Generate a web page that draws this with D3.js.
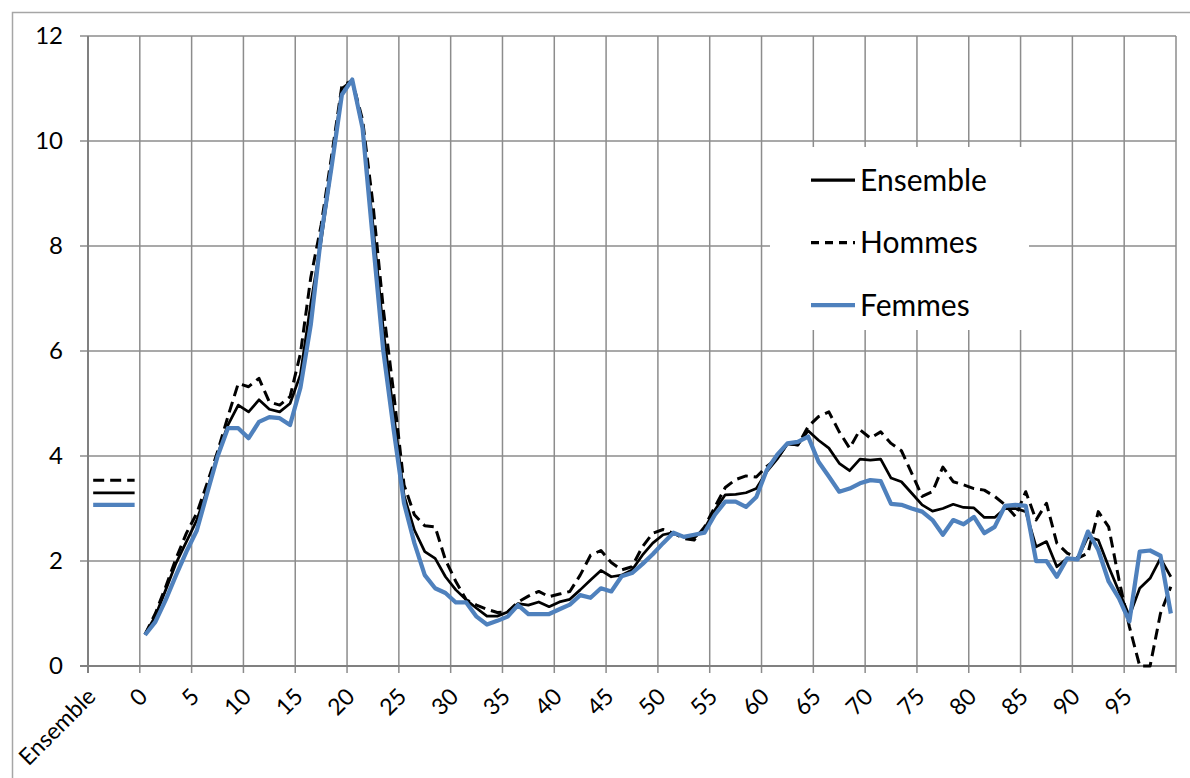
<!DOCTYPE html>
<html>
<head>
<meta charset="utf-8">
<script src="https://cdn.jsdelivr.net/npm/d3@7"></script>
<style>
  body { margin: 0; background: #fff; }
  svg text { font-family: Lato, "Open Sans", sans-serif; fill: #000; }
</style>
</head>
<body>
<div id="chart"></div>
<script>

// categories: the "Ensemble" column, four empty slots, then ages 0..99
var blankCats = ["_1", "_2", "_3", "_4"];
var ages = d3.range(0, 100).map(String);
var cats = ["Ensemble"].concat(blankCats, ages);

var seriesNames = ["Hommes", "Ensemble", "Femmes"];

// value for the whole population ("Ensemble" column), same order as seriesNames
var overallValues = [3.54, 3.30, 3.07];

var ensemble = [
  0.60, 0.95, 1.45, 1.96, 2.37, 2.78, 3.35, 4.02, 4.59, 4.97,
  4.84, 5.07, 4.89, 4.84, 5.00, 5.55, 6.90, 8.10, 9.50, 11.00,
  11.15, 10.25, 8.40, 6.40, 4.80, 3.25, 2.59, 2.18, 2.05, 1.70,
  1.45, 1.26, 1.10, 0.95, 0.95, 1.03, 1.19, 1.16, 1.22, 1.13,
  1.22, 1.27, 1.45, 1.64, 1.82, 1.70, 1.73, 1.83, 2.11, 2.34,
  2.50, 2.54, 2.46, 2.44, 2.62, 2.97, 3.26, 3.27, 3.30, 3.38,
  3.70, 3.94, 4.23, 4.21, 4.48, 4.30, 4.15, 3.86, 3.72, 3.94,
  3.92, 3.94, 3.58, 3.51, 3.29, 3.07, 2.95, 3.00, 3.08, 3.02,
  3.01, 2.83, 2.83, 3.00, 3.00, 2.94, 2.27, 2.37, 1.89, 2.05,
  2.05, 2.46, 2.40, 1.89, 1.42, 0.95, 1.48, 1.67, 2.05, 1.70
];

var hommes = [
  0.60, 1.00, 1.51, 2.05, 2.53, 2.91, 3.48, 4.08, 4.75, 5.38,
  5.32, 5.48, 5.03, 4.97, 5.13, 5.95, 7.40, 8.40, 9.70, 11.05,
  11.15, 10.40, 8.80, 6.80, 5.20, 3.45, 2.88, 2.67, 2.65, 2.02,
  1.61, 1.26, 1.16, 1.08, 1.02, 1.03, 1.22, 1.33, 1.42, 1.32,
  1.37, 1.42, 1.73, 2.11, 2.20, 1.97, 1.83, 1.89, 2.27, 2.53,
  2.60, 2.53, 2.43, 2.40, 2.65, 3.03, 3.40, 3.55, 3.62, 3.60,
  3.80, 3.95, 4.24, 4.21, 4.56, 4.75, 4.84, 4.46, 4.15, 4.50,
  4.34, 4.46, 4.24, 4.10, 3.67, 3.23, 3.32, 3.79, 3.51, 3.45,
  3.38, 3.35, 3.23, 3.07, 2.85, 3.32, 2.78, 3.10, 2.34, 2.15,
  2.05, 2.15, 2.94, 2.65, 1.64, 0.75, 0.00, 0.00, 1.00, 1.51
];

var femmes = [
  0.59, 0.84, 1.26, 1.73, 2.18, 2.58, 3.29, 3.99, 4.53, 4.53,
  4.34, 4.65, 4.74, 4.72, 4.59, 5.30, 6.50, 8.20, 9.50, 10.88,
  11.17, 10.24, 8.10, 6.00, 4.50, 3.10, 2.34, 1.73, 1.48, 1.39,
  1.21, 1.21, 0.94, 0.79, 0.86, 0.94, 1.16, 0.99, 0.99, 0.99,
  1.08, 1.17, 1.35, 1.30, 1.48, 1.42, 1.71, 1.77, 1.94, 2.13,
  2.34, 2.54, 2.46, 2.50, 2.54, 2.88, 3.13, 3.13, 3.03, 3.22,
  3.73, 4.02, 4.24, 4.27, 4.37, 3.89, 3.61, 3.32, 3.38, 3.48,
  3.54, 3.52, 3.09, 3.07, 3.00, 2.94, 2.78, 2.50, 2.78, 2.70,
  2.84, 2.53, 2.65, 3.05, 3.07, 3.05, 2.00, 2.00, 1.70, 2.05,
  2.03, 2.56, 2.21, 1.61, 1.29, 0.85, 2.18, 2.20, 2.10, 1.00
];

var yTicks = [0, 2, 4, 6, 8, 10, 12];

var width = 1190, height = 778;
var margin = {top: 36, right: 14, bottom: 112, left: 88};

var svg = d3.select("#chart").append("svg")
    .attr("width", width)
    .attr("height", height);

svg.append("rect")
    .attr("width", width).attr("height", height)
    .attr("fill", "#fff");

// outer chart border (right and bottom sides fall outside the picture)
svg.append("rect")
    .attr("x", 12.5).attr("y", 12.5)
    .attr("width", 1200).attr("height", 800)
    .attr("fill", "none")
    .attr("stroke", "#a6a6a6")
    .attr("stroke-width", 1.5);

var x = d3.scaleBand()
    .domain(cats)
    .range([margin.left, width - margin.right])
    .padding(0);

var y = d3.scaleLinear()
    .domain([0, 12])
    .range([height - margin.bottom, margin.top]);

var bw = x.bandwidth();
var cx = function(c) { return x(c) + bw / 2; };

var x0 = x.range()[0], x1 = x.range()[1];
var y0 = y(0), yTop = y(12);

// tick boundaries every 5 categories
var boundaries = cats.filter(function(c, i) { return i % 5 == 0; })
    .map(function(c) { return x(c); })
    .concat([x1]);

var grid = svg.append("g").attr("class", "grid")
    .attr("stroke", "#8c8c8c")
    .attr("stroke-width", 1.5);

grid.selectAll("line.h")
    .data(yTicks.slice(1))
    .enter().append("line")
    .attr("class", "h")
    .attr("x1", x0 - 8).attr("x2", x1)
    .attr("y1", function(d) { return y(d); })
    .attr("y2", function(d) { return y(d); });

grid.selectAll("line.v")
    .data(boundaries.slice(1))
    .enter().append("line")
    .attr("class", "v")
    .attr("x1", function(d) { return d; })
    .attr("x2", function(d) { return d; })
    .attr("y1", yTop).attr("y2", y0 + 7);

// axis lines
svg.append("line")
    .attr("x1", x0).attr("x2", x0)
    .attr("y1", yTop).attr("y2", y0 + 7)
    .attr("stroke", "#808080").attr("stroke-width", 2);
svg.append("line")
    .attr("x1", x0 - 8).attr("x2", x1)
    .attr("y1", y0).attr("y2", y0)
    .attr("stroke", "#808080").attr("stroke-width", 2);

// y axis labels
var yAxis = d3.axisLeft(y).tickValues(yTicks).tickSize(0).tickPadding(25);
var gy = svg.append("g")
    .attr("transform", "translate(" + x0 + ",0)")
    .call(yAxis);
gy.select(".domain").remove();
gy.selectAll("text")
    .style("font-family", "Lato, 'Open Sans', sans-serif")
    .style("font-size", "24px")
    .attr("fill", "#000");

// x axis labels, rotated
var tickCats = cats.filter(function(c, i) { return i % 5 == 0; });
var xAxis = d3.axisBottom(x).tickValues(tickCats).tickSize(0);
var gx = svg.append("g")
    .attr("transform", "translate(0," + y0 + ")")
    .call(xAxis);
gx.select(".domain").remove();
gx.selectAll("text")
    .style("font-family", "Lato, 'Open Sans', sans-serif")
    .style("font-size", "23px")
    .attr("fill", "#000")
    .attr("y", 0).attr("dy", 0)
    .attr("text-anchor", "end")
    .attr("transform", "translate(4,32) rotate(-45)");

var styles = {
  "Hommes":   {stroke: "#000", width: 3, dash: "11,6"},
  "Ensemble": {stroke: "#000", width: 2.75, dash: null},
  "Femmes":   {stroke: "#4f81bd", width: 4.25, dash: null}
};
var values = {"Hommes": hommes, "Ensemble": ensemble, "Femmes": femmes};

var line = d3.line()
    .x(function(d) { return cx(d.cat); })
    .y(function(d) { return y(d.v); });

var plot = svg.append("g").attr("class", "series");

seriesNames.forEach(function(name, k) {
  var st = styles[name];

  // flat segment over the "Ensemble" column
  var seg = ["Ensemble"].concat(blankCats).map(function(c) {
    return {cat: c, v: overallValues[k]};
  });
  plot.append("path")
      .datum(seg)
      .attr("d", line)
      .attr("fill", "none")
      .attr("stroke", st.stroke)
      .attr("stroke-width", st.width)
      .attr("stroke-dasharray", st.dash);

  var pts = ages.map(function(a, i) { return {cat: a, v: values[name][i]}; });
  plot.append("path")
      .datum(pts)
      .attr("d", line)
      .attr("fill", "none")
      .attr("stroke", st.stroke)
      .attr("stroke-width", st.width)
      .attr("stroke-linejoin", "round")
      .attr("stroke-dasharray", st.dash);
});

// legend
var legend = svg.append("g").attr("class", "legend");
legend.append("rect")
    .attr("x", 770).attr("y", 147)
    .attr("width", 259).attr("height", 183)
    .attr("fill", "#fff");

var legendOrder = ["Ensemble", "Hommes", "Femmes"];
var legendY = d3.scalePoint().domain(legendOrder).range([180, 305]);

legendOrder.forEach(function(name) {
  var st = styles[name];
  var ly = legendY(name);
  legend.append("line")
      .attr("x1", 811).attr("x2", 855)
      .attr("y1", ly).attr("y2", ly)
      .attr("stroke", st.stroke)
      .attr("stroke-width", name == "Femmes" ? 4.25 : 3.25)
      .attr("stroke-dasharray", st.dash ? "8,6" : null);
  legend.append("text")
      .attr("x", 860).attr("y", ly)
      .attr("dy", "0.36em")
      .style("font-size", "30px")
      .text(name);
});

</script>
</body>
</html>
